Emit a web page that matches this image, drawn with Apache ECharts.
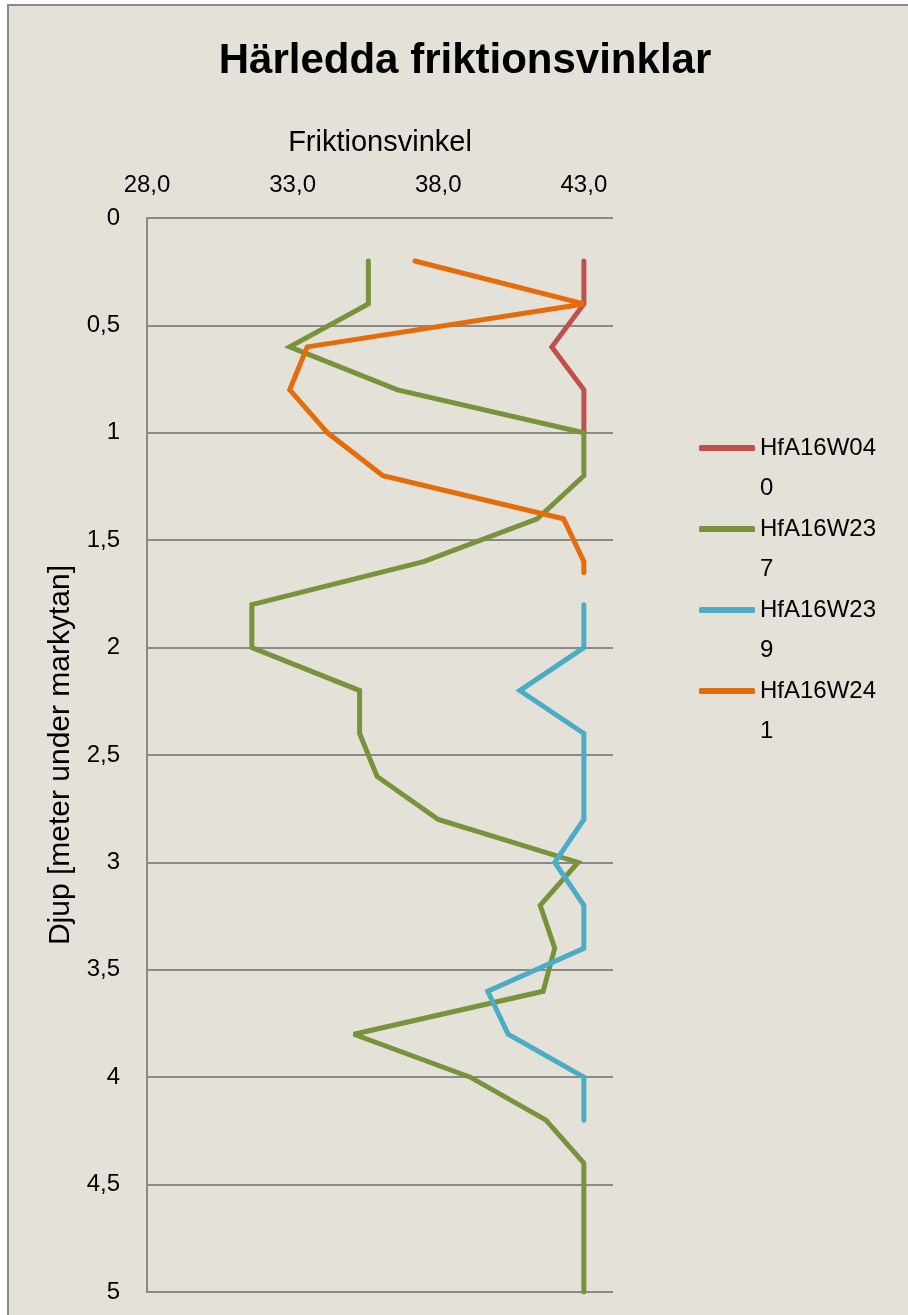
<!DOCTYPE html>
<html>
<head>
<meta charset="utf-8">
<script src="https://cdn.jsdelivr.net/npm/echarts@6/dist/echarts.min.js"></script>
<style>
  html, body { margin: 0; padding: 0; background: #fff; overflow: hidden; }
  #frame {
    position: absolute; left: 7px; top: 4px; width: 920px; height: 1330px;
    background: #E4E2D8;
    border-left: 2px solid #8a8a8a; border-top: 2px solid #8a8a8a;
  }
  #chart { position: absolute; left: 0; top: 0; width: 908px; height: 1315px; }
</style>
</head>
<body>
<div id="frame"></div>
<div id="chart"></div>
<script>
// series names (legend)
const seriesNames = ['HfA16W040', 'HfA16W237', 'HfA16W239', 'HfA16W241']
const seriesColors = ['#C0504D', '#77933C', '#4BACC6', '#E46C0A']

// depth (m below ground) and friction angle (deg) per borehole
const depth040 = [0.2, 0.4, 0.6, 0.8, 1.0]
const angle040 = [43, 43, 41.9, 43, 43]

const depth237 = [0.2, 0.4, 0.6, 0.8, 1.0, 1.2, 1.4, 1.6, 1.8, 2.0, 2.2, 2.4, 2.6,
  2.8, 3.0, 3.2, 3.4, 3.6, 3.8, 4.0, 4.2, 4.4, 4.6, 4.8, 5.0]
const angle237 = [35.6, 35.6, 32.9, 36.6, 43, 43, 41.4, 37.5, 31.6, 31.6, 35.3, 35.3, 35.9,
  38.0, 42.8, 41.5, 42.0, 41.6, 35.1, 39.1, 41.7, 43, 43, 43, 43]

const depth239 = [1.8, 2.0, 2.2, 2.4, 2.6, 2.8, 3.0, 3.2, 3.4, 3.6, 3.8, 4.0, 4.2]
const angle239 = [43, 43, 40.8, 43, 43, 43, 42.0, 43, 43, 39.7, 40.4, 43, 43]

const depth241 = [0.2, 0.4, 0.6, 0.8, 1.0, 1.2, 1.4, 1.6, 1.65]
const angle241 = [37.2, 43, 33.5, 32.9, 34.2, 36.1, 42.3, 43, 43]

const depths = [depth040, depth237, depth239, depth241]
const angles = [angle040, angle237, angle239, angle241]

const FONT = 'Liberation Sans'

const chart = echarts.init(document.getElementById('chart'))

chart.setOption({
  backgroundColor: 'transparent',
  color: seriesColors,
  animation: false,
  title: {
    text: 'Härledda friktionsvinklar',
    left: 465,
    top: 40,
    padding: 0,
    textAlign: 'center',
    textStyle: { fontFamily: FONT, fontSize: 42, fontWeight: 'bold', color: '#000' },
  },
  legend: {
    orient: 'vertical',
    left: 694,
    top: 383,
    icon: 'roundRect',
    itemWidth: 56,
    itemHeight: 6,
    itemGap: -39,
    // legend labels wrap after 8 characters, as in the original; the blank
    // first line keeps the icon level with the first text line
    formatter: name => '\n' + name.slice(0, 8) + '\n' + name.slice(8),
    textStyle: { fontFamily: FONT, fontSize: 24, color: '#000', lineHeight: 40 },
    data: seriesNames,
  },
  grid: { left: 147, right: 295, top: 218, bottom: 23 },
  xAxis: {
    type: 'value',
    position: 'top',
    min: 28,
    max: 44,
    interval: 5,
    name: 'Friktionsvinkel',
    nameLocation: 'middle',
    nameGap: 61,
    nameTextStyle: { fontFamily: FONT, fontSize: 29, color: '#000' },
    axisLine: { show: false },
    axisTick: { show: false },
    splitLine: { show: false },
    axisLabel: {
      fontFamily: FONT, fontSize: 24, color: '#000', margin: 21,
      showMaxLabel: false,
      formatter: v => v.toFixed(1).replace('.', ','),
    },
  },
  yAxis: {
    type: 'value',
    inverse: true,
    min: 0,
    max: 5,
    interval: 0.5,
    name: 'Djup [meter under markytan]',
    nameLocation: 'middle',
    nameRotate: 90,
    nameGap: 70,
    nameTextStyle: { fontFamily: FONT, fontSize: 30, color: '#000' },
    axisLine: { show: true, lineStyle: { color: '#8a8a8a', width: 2 } },
    axisTick: { show: false },
    splitLine: { show: true, lineStyle: { color: '#8a8a8a', width: 2 } },
    axisLabel: {
      fontFamily: FONT, fontSize: 24, color: '#000', margin: 27,
      formatter: v => String(v).replace('.', ','),
    },
  },
  series: seriesNames.map((name, i) => ({
    name,
    type: 'line',
    symbol: 'none',
    data: depths[i].map((d, j) => [angles[i][j], d]),
    lineStyle: { width: 5, cap: 'round', join: 'miter', miterLimit: 3 },
  })),
})
</script>
</body>
</html>
